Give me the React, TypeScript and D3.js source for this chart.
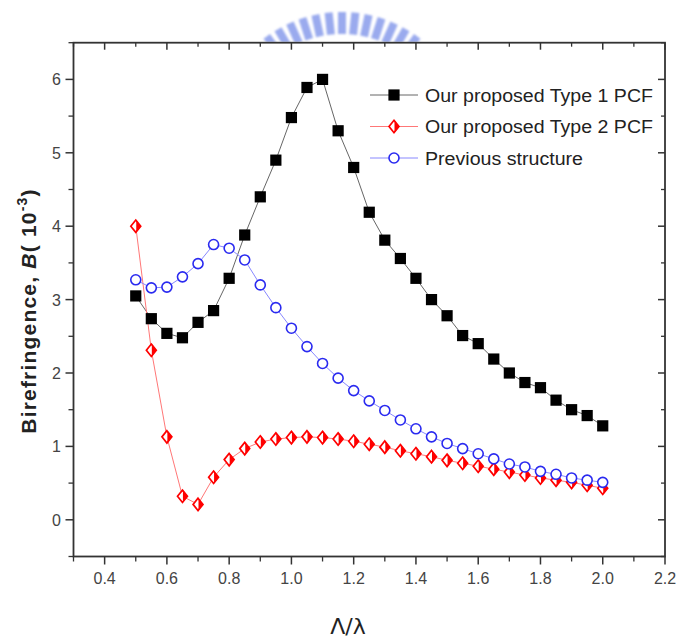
import React from "react";
import * as d3 from "d3";

const ratio = [0.5, 0.55, 0.6, 0.65, 0.7, 0.75, 0.8, 0.85, 0.9, 0.95, 1.0, 1.05, 1.1, 1.15, 1.2, 1.25, 1.3, 1.35, 1.4, 1.45, 1.5, 1.55, 1.6, 1.65, 1.7, 1.75, 1.8, 1.85, 1.9, 1.95, 2.0];
const type1 = [3.05, 2.74, 2.54, 2.48, 2.69, 2.85, 3.29, 3.88, 4.40, 4.90, 5.48, 5.89, 6.0, 5.30, 4.80, 4.19, 3.81, 3.56, 3.29, 3.0, 2.78, 2.51, 2.40, 2.19, 2.0, 1.87, 1.80, 1.63, 1.50, 1.42, 1.28];
const type2 = [4.0, 2.31, 1.13, 0.32, 0.21, 0.58, 0.82, 0.97, 1.06, 1.10, 1.12, 1.13, 1.12, 1.10, 1.07, 1.03, 0.99, 0.94, 0.90, 0.86, 0.81, 0.77, 0.73, 0.69, 0.65, 0.61, 0.57, 0.54, 0.51, 0.47, 0.43];
const previous = [3.27, 3.16, 3.17, 3.31, 3.49, 3.75, 3.70, 3.54, 3.20, 2.89, 2.61, 2.36, 2.13, 1.93, 1.76, 1.62, 1.49, 1.36, 1.24, 1.13, 1.04, 0.97, 0.90, 0.83, 0.76, 0.72, 0.66, 0.62, 0.57, 0.54, 0.51];
const seriesNames = ["Our proposed Type 1 PCF", "Our proposed Type 2 PCF", "Previous structure"];
const xTickLabels = ["0.4", "0.6", "0.8", "1.0", "1.2", "1.4", "1.6", "1.8", "2.0", "2.2"];
const xMinor = [0.3, 0.5, 0.7, 0.9, 1.1, 1.3, 1.5, 1.7, 1.9, 2.1];
const yTickLabels = ["0", "1", "2", "3", "4", "5", "6"];
const yMinor = [-0.5, 0.5, 1.5, 2.5, 3.5, 4.5, 5.5, 6.5];

const W = 681, H = 639;
const L = 73.5, R = 665, T = 42.7, B = 556.5;
const x = d3.scaleLinear().domain([0.3, 2.2]).range([L, R]);
const y = d3.scaleLinear().domain([-0.5, 6.5]).range([B, T]);

const font = "'Liberation Sans', Arial, sans-serif";
const axisColor = "#333";

function Square({ cx, cy }: { cx: number; cy: number }) {
  return <rect x={cx - 5.6} y={cy - 5.6} width={11.2} height={11.2} fill="#000" />;
}
function HalfDiamond({ cx, cy }: { cx: number; cy: number }) {
  const r = 6.2;
  return (
    <g>
      <path d={`M${cx},${cy - r}L${cx + r * 0.8},${cy}L${cx},${cy + r}L${cx - r * 0.8},${cy}Z`} fill="#fff" stroke="#f00" strokeWidth={1.7} />
      <path d={`M${cx + 0.5},${cy - r}L${cx + r * 0.8},${cy}L${cx + 0.5},${cy + r}Z`} fill="#f00" />
    </g>
  );
}
function Circle({ cx, cy }: { cx: number; cy: number }) {
  return <circle cx={cx} cy={cy} r={5} fill="#fff" stroke="#2a2af0" strokeWidth={1.6} />;
}

export default function App() {
  const line = d3.line<number>().x((_, i) => x(ratio[i])).y((d) => y(d));
  const wm = d3.range(-36, 37, 6);
  const legendWidths = [228, 228, 158];
  return (
    <svg width={W} height={H} style={{ position: "absolute", left: 0, top: 0, background: "#fff" }}>
      <defs>
        <clipPath id="wmclip"><rect x={0} y={0} width={W} height={T - 1} /></clipPath>
        <filter id="blur"><feGaussianBlur stdDeviation={1} /></filter>
      </defs>
      {/* watermark */}
      <g clipPath="url(#wmclip)" filter="url(#blur)">
        {wm.map((a) => (
          <rect key={a} x={-4} y={-128} width={8} height={22} fill="#9aaaee"
            transform={`translate(342,140) rotate(${a})`} />
        ))}
      </g>

      {/* frame */}
      <rect x={L} y={T} width={R - L} height={B - T} fill="none" stroke={axisColor} strokeWidth={1.8} />

      {xTickLabels.map((t) => {
        const xv = x(+t);
        return (
          <g key={"bx" + t}>
            <line x1={xv} x2={xv} y1={B} y2={B + 8} stroke={axisColor} strokeWidth={1.5} />
            <line x1={xv} x2={xv} y1={T} y2={T + 7} stroke={axisColor} strokeWidth={1.5} />
            <text x={xv} y={584} textAnchor="middle" fontFamily={font} fontSize={16} fill="#444">{t}</text>
          </g>
        );
      })}
      {xMinor.map((v) => (
        <g key={"mx" + v}>
          <line x1={x(v)} x2={x(v)} y1={B} y2={B + 5} stroke={axisColor} strokeWidth={1.3} />
          <line x1={x(v)} x2={x(v)} y1={T} y2={T + 4} stroke={axisColor} strokeWidth={1.3} />
        </g>
      ))}
      {yTickLabels.map((t) => {
        const yv = y(+t);
        return (
          <g key={"ly" + t}>
            <line x1={L - 8} x2={L} y1={yv} y2={yv} stroke={axisColor} strokeWidth={1.5} />
            <line x1={R - 7} x2={R} y1={yv} y2={yv} stroke={axisColor} strokeWidth={1.5} />
            <text x={61} y={yv + 6} textAnchor="end" fontFamily={font} fontSize={16} fill="#444">{t}</text>
          </g>
        );
      })}
      {yMinor.map((v) => (
        <g key={"my" + v}>
          <line x1={L - 5} x2={L} y1={y(v)} y2={y(v)} stroke={axisColor} strokeWidth={1.3} />
          <line x1={R - 4} x2={R} y1={y(v)} y2={y(v)} stroke={axisColor} strokeWidth={1.3} />
        </g>
      ))}

      {/* axis titles */}
      <text transform="translate(36,311) rotate(-90)" textAnchor="middle" fontFamily={font} fontSize={21} fontWeight="bold" fill="#222" letterSpacing={1.2}>
        Birefringence, <tspan fontStyle="italic">B</tspan>( 10<tspan dy={-9} fontSize={14}>-3</tspan><tspan dy={9}>)</tspan>
      </text>
      <text x={348} y={634} textAnchor="middle" fontFamily="'DejaVu Sans', sans-serif" fontSize={22} fill="#222">Λ/λ</text>

      {/* lines */}
      <path d={line(type1) || ""} fill="none" stroke="#666" strokeWidth={1} />
      <path d={line(type2) || ""} fill="none" stroke="#f77" strokeWidth={1} />
      <path d={line(previous) || ""} fill="none" stroke="#88f" strokeWidth={1} />

      {/* markers */}
      {type1.map((v, i) => <Square key={"a" + i} cx={x(ratio[i])} cy={y(v)} />)}
      {type2.map((v, i) => <HalfDiamond key={"b" + i} cx={x(ratio[i])} cy={y(v)} />)}
      {previous.map((v, i) => <Circle key={"c" + i} cx={x(ratio[i])} cy={y(v)} />)}

      {/* legend */}
      {seriesNames.map((name, i) => {
        const ly = 95 + i * 31.5;
        const col = ["#666", "#f77", "#88f"][i];
        return (
          <g key={name}>
            <line x1={370} x2={418} y1={ly} y2={ly} stroke={col} strokeWidth={1} />
            {i === 0 && <Square cx={394} cy={ly} />}
            {i === 1 && <HalfDiamond cx={394} cy={ly} />}
            {i === 2 && <Circle cx={394} cy={ly} />}
            <text x={425} y={ly + 6.5} fontFamily={font} fontSize={18} fill="#222"
              textLength={legendWidths[i]} lengthAdjust="spacingAndGlyphs">{name}</text>
          </g>
        );
      })}
    </svg>
  );
}
